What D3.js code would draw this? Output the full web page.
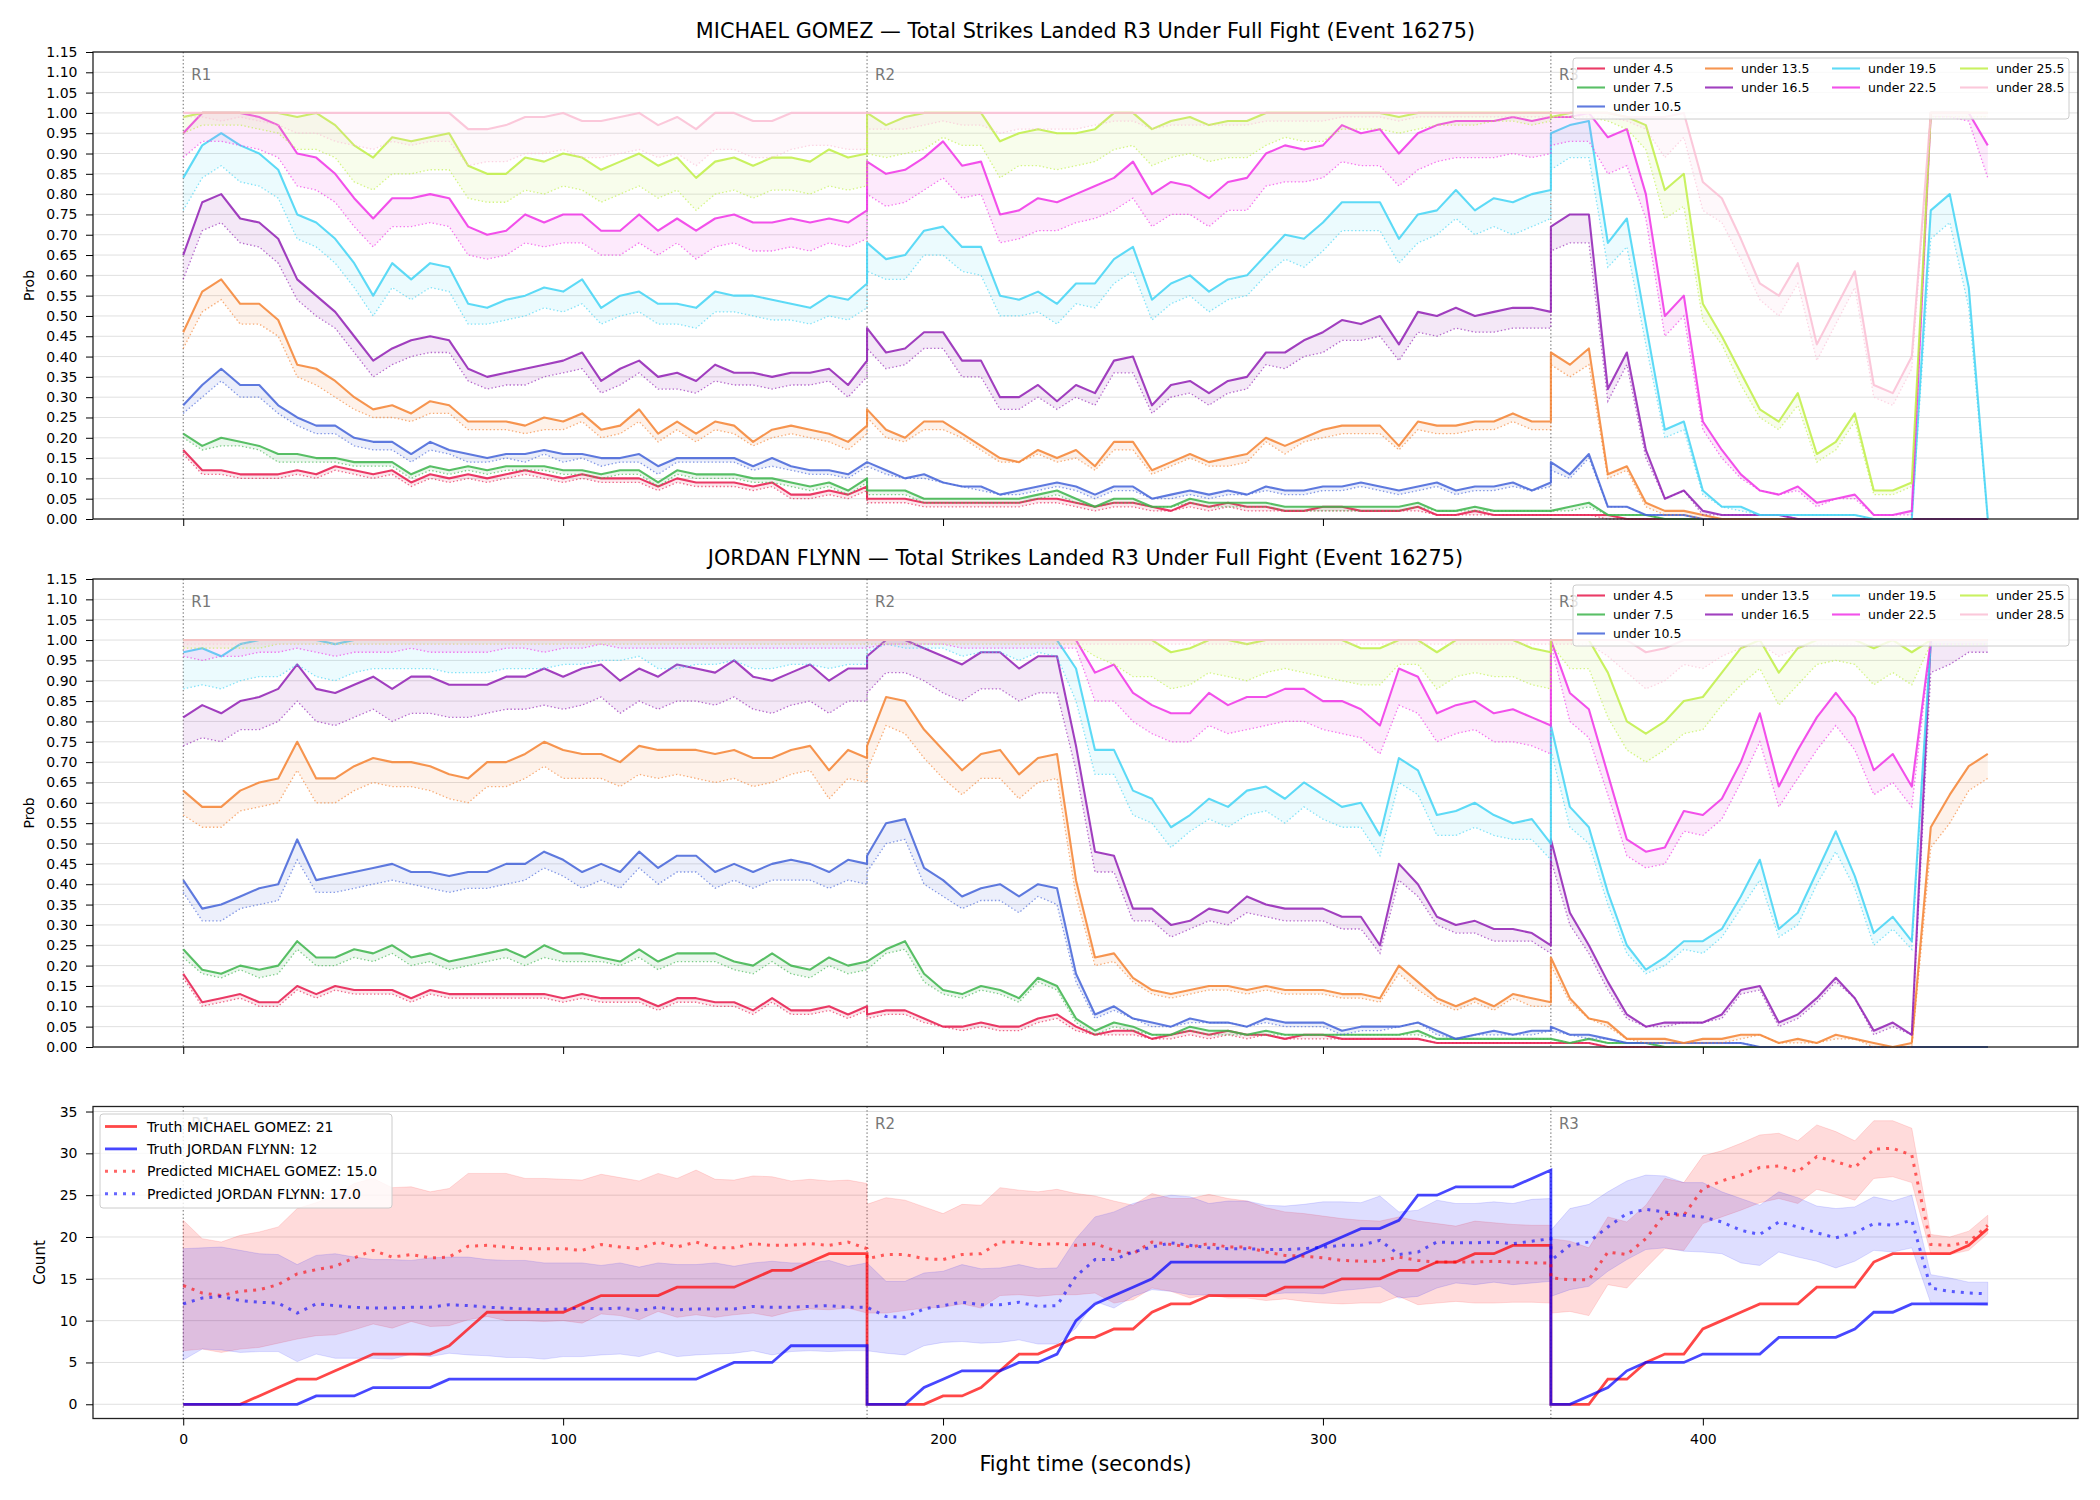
<!DOCTYPE html>
<html>
<head>
<meta charset="utf-8">
<script src="https://cdn.jsdelivr.net/npm/d3@7"></script>
<style>
  body { margin: 0; background: #fff; }
  text { font-family: "DejaVu Sans", sans-serif; }
</style>
</head>
<body>
<div id="chart"></div>
<script>
// --- sampling grid: every 5 s, each round sampled from its start to its end
const roundStarts = [0, 180, 360];
const roundEnds = [180, 360, 475];
const roundNames = ["R1", "R2", "R3"];
const step = 5;
const times = roundStarts.flatMap((s, i) => d3.range(s, roundEnds[i] + 1, step));

const thresholds = ["under 4.5", "under 7.5", "under 10.5", "under 13.5", "under 16.5",
  "under 19.5", "under 22.5", "under 25.5", "under 28.5"];
const colors = ["#e6194B", "#3cb44b", "#4363d8", "#f58231", "#911eb4",
  "#42d4f4", "#f032e6", "#bfef45", "#fabed4"];

// probabilities in %, one row per threshold, rounds R1 | R2 | R3
const gomezProb = [
  [17,12,12,11,11,11,12,11,13,12,11,12,9,11,10,11,10,11,12,11,10,11,10,10,10,8,10,9,9,9,8,9,6,6,7,6,8,
   5,5,5,4,4,4,4,4,4,5,5,4,3,4,4,3,2,4,3,4,3,3,2,2,3,3,2,2,2,3,1,1,2,1,1,1,1,
   1,1,1,1,0,0,0,0,0,0,0,0,0,0,0,0,0,0,0,0,0,0,0,0],
  [21,18,20,19,18,16,16,15,15,14,14,14,11,13,12,13,12,13,13,13,12,12,11,12,12,9,12,11,11,11,10,10,9,8,9,7,10,
   7,7,7,5,5,5,5,5,5,6,7,5,3,5,5,3,3,5,4,4,4,4,3,3,3,3,3,3,3,4,2,2,3,2,2,2,2,
   2,3,4,1,1,1,0,0,0,0,0,0,0,0,0,0,0,0,0,0,0,0,0,0],
  [28,33,37,33,33,28,25,23,23,20,19,19,16,19,17,16,15,16,16,17,16,16,15,15,16,13,15,15,15,15,13,15,13,12,12,11,14,
   14,12,10,11,9,8,8,6,7,8,9,8,6,8,8,5,6,7,6,7,6,8,7,7,8,8,9,8,7,8,9,7,8,8,9,7,9,
   14,11,16,3,3,1,1,1,0,0,0,0,0,0,0,0,0,0,0,0,0,0,0,0],
  [46,56,59,53,53,49,38,37,34,30,27,28,26,29,28,24,24,24,23,25,24,26,22,23,27,21,24,21,24,23,19,22,23,22,21,19,23,
   27,22,20,24,24,21,18,15,14,17,15,17,13,19,19,12,14,16,14,15,16,20,18,20,22,23,23,23,18,24,23,23,24,24,26,24,24,
   41,38,42,11,13,4,2,2,1,0,0,0,0,0,0,0,0,0,0,0,0,0,0,0],
  [65,78,80,74,73,69,59,55,51,45,39,42,44,45,44,37,35,36,37,38,39,41,34,37,39,35,36,34,38,36,36,35,36,36,37,33,39,
   47,41,42,46,46,39,39,30,30,33,29,33,31,39,40,28,33,34,31,34,35,41,41,44,46,49,48,50,43,51,50,52,50,51,52,52,51,
   72,75,75,32,41,17,5,7,2,1,1,1,1,0,0,0,0,0,0,0,0,0,0,0],
  [84,92,95,92,90,86,75,73,69,63,55,63,59,63,62,53,52,54,55,57,56,59,52,55,56,53,53,52,56,55,55,54,53,52,55,54,58,
   68,64,65,71,72,67,67,55,54,56,53,58,58,64,67,54,58,60,56,59,60,65,70,69,73,78,78,78,69,75,76,81,76,79,78,80,81,
   95,97,98,68,74,48,22,24,7,3,3,1,1,1,1,1,1,0,0,0,76,80,57,0],
  [95,100,100,100,99,97,90,89,85,79,74,79,79,80,79,72,70,71,75,73,75,75,71,71,75,71,74,71,74,75,73,73,74,73,74,73,76,
   88,85,86,89,93,87,88,75,76,79,78,80,82,84,88,80,83,82,79,83,84,90,92,91,92,97,95,96,90,95,97,98,98,98,99,98,99,
   99,99,100,94,96,80,50,55,24,17,11,7,6,8,4,5,6,1,1,2,100,100,100,92],
  [99,100,100,100,100,100,99,100,97,92,89,94,93,94,95,87,85,85,89,88,90,89,86,88,90,87,89,84,88,89,87,89,89,88,91,89,90,
   100,97,99,100,100,100,100,93,95,96,95,95,96,100,100,96,98,99,97,98,98,100,100,100,100,100,100,100,99,100,100,100,100,100,100,100,100,
   99,100,100,100,99,97,81,85,53,45,36,27,24,31,16,19,26,7,7,9,100,100,100,100],
  [100,100,100,100,100,100,100,100,100,100,100,100,100,100,100,96,96,97,99,99,100,98,98,99,100,97,99,96,100,100,98,98,100,100,100,100,100,
   100,100,100,100,100,100,100,100,100,100,100,100,100,100,100,100,100,100,100,100,100,100,100,100,100,100,100,100,100,100,100,100,100,100,100,100,100,
   100,100,100,100,99,99,99,100,83,79,69,58,55,63,43,52,61,33,31,40,100,100,100,100]
];

const gomezProbLow = [
  [16,11,11,10,10,10,11,10,12,11,10,11,8,10,9,10,9,10,11,10,9,10,9,9,9,7,9,8,8,8,7,8,5,5,6,5,7,
   4,4,4,3,3,3,3,3,3,4,4,3,2,3,3,2,2,3,2,3,2,2,2,2,2,2,2,2,2,2,1,1,1,1,1,1,1,
   1,1,1,0,0,0,0,0,0,0,0,0,0,0,0,0,0,0,0,0,0,0,0,0],
  [20,17,18,18,17,14,14,14,14,13,13,13,10,12,11,12,11,12,12,12,11,11,10,11,11,8,11,10,10,10,9,9,8,7,8,6,9,
   6,6,6,4,4,4,4,4,4,5,6,4,3,4,4,3,3,4,3,3,3,3,2,2,2,2,2,2,2,3,2,2,2,2,2,2,2,
   2,2,3,1,1,1,0,0,0,0,0,0,0,0,0,0,0,0,0,0,0,0,0,0],
  [26,30,34,30,30,26,23,21,21,18,17,17,14,17,16,14,14,15,14,16,14,15,13,14,14,11,14,14,14,14,12,13,12,11,11,10,13,
   13,11,10,10,9,8,7,6,6,7,8,7,5,7,7,5,5,6,5,6,6,7,6,6,7,7,8,7,6,7,8,6,7,7,8,7,8,
   12,10,15,3,3,1,1,1,0,0,0,0,0,0,0,0,0,0,0,0,0,0,0,0],
  [42,51,54,48,48,45,35,33,30,27,25,25,24,26,26,22,22,22,21,22,22,24,20,21,24,19,22,19,22,21,18,20,21,20,19,17,21,
   25,20,19,22,22,20,17,14,14,16,14,15,12,17,17,11,13,15,13,13,14,19,16,19,20,21,21,21,17,22,21,21,22,22,24,22,22,
   38,35,38,10,12,3,1,1,0,0,0,0,0,0,0,0,0,0,0,0,0,0,0,0],
  [59,71,73,68,67,63,54,50,47,41,35,38,40,41,41,34,32,33,33,35,36,37,31,33,36,32,32,31,34,33,33,32,33,33,34,30,35,
   42,37,38,42,42,35,35,27,27,30,27,30,28,36,36,26,30,31,28,31,32,38,37,40,41,44,44,45,39,46,45,47,46,46,47,47,47,
   66,68,68,29,38,15,5,7,1,1,1,1,1,0,0,0,0,0,0,0,0,0,0,0],
  [76,84,87,83,82,79,69,67,63,57,50,57,54,57,56,48,48,49,50,52,51,53,48,50,51,48,48,47,51,51,50,49,49,48,50,49,52,
   61,59,59,65,65,61,60,50,50,51,48,53,52,58,61,49,53,55,51,54,55,60,64,62,66,71,71,71,63,68,70,74,70,72,70,72,74,
   86,89,89,62,67,43,20,22,6,3,2,1,1,1,1,1,1,0,0,0,69,73,52,0],
  [89,93,93,92,91,89,82,81,78,72,67,72,72,73,72,65,64,65,68,67,68,68,65,65,68,65,68,64,67,68,66,66,67,66,68,67,69,
   80,77,78,81,84,79,80,68,69,71,71,73,74,76,79,72,75,75,72,76,76,82,83,83,84,88,87,87,82,86,88,89,89,89,90,89,90,
   92,93,93,85,87,74,45,50,22,15,10,7,6,7,3,5,5,1,1,1,99,99,98,84],
  [95,97,97,97,96,95,91,91,89,83,81,85,85,86,86,79,78,78,81,80,82,81,78,80,82,79,81,76,80,81,79,81,81,80,82,81,82,
   90,89,90,91,94,92,92,84,87,87,86,87,88,91,92,87,89,90,88,89,89,92,94,93,93,96,96,96,95,96,97,97,97,98,98,97,98,
   99,99,99,98,96,91,74,77,49,43,33,25,22,28,14,17,24,6,6,8,99,99,99,99],
  [99,99,98,99,98,97,95,95,93,92,91,93,92,93,93,87,88,88,90,90,91,89,89,90,91,89,90,87,91,91,89,89,91,92,92,91,91,
   96,96,96,97,98,97,97,95,96,96,96,96,97,98,98,96,97,97,97,97,97,98,98,98,98,99,99,99,98,99,99,99,99,99,99,99,99,
   99,99,99,99,98,96,89,94,76,73,64,54,50,58,39,48,57,30,28,37,99,99,99,99]
];

const flynnProb = [
  [18,11,12,13,11,11,15,13,15,14,14,14,12,14,13,13,13,13,13,13,12,13,12,12,12,10,12,12,11,11,9,12,9,9,10,8,10,
   8,9,9,7,5,5,6,5,5,7,8,5,3,4,4,2,3,4,3,4,3,3,2,3,3,2,2,2,2,2,1,1,1,1,1,1,1,
   1,1,1,0,0,0,0,0,0,0,0,0,0,0,0,0,0,0,0,0,0,0,0,0],
  [24,19,18,20,19,20,26,22,22,24,23,25,22,23,21,22,23,24,22,25,23,23,22,21,24,21,23,23,23,21,20,23,20,19,22,20,21,
   21,24,26,18,14,13,15,14,12,17,15,7,4,6,5,3,3,5,4,4,3,4,3,3,3,3,3,3,3,4,2,2,2,2,2,2,2,
   2,1,2,1,1,1,0,0,0,0,0,0,0,0,0,0,0,0,0,0,0,0,0,0],
  [41,34,35,37,39,40,51,41,42,43,44,45,43,43,42,43,43,45,45,48,46,43,45,43,48,44,47,47,43,45,43,45,46,45,43,46,45,
   47,55,56,44,41,37,39,40,37,40,39,18,8,10,7,6,5,7,6,6,5,7,6,6,6,4,5,5,5,6,4,2,3,4,3,4,4,
   5,3,3,2,1,1,1,1,1,1,1,0,0,0,0,0,0,0,0,0,0,0,0,0],
  [63,59,59,63,65,66,75,66,66,69,71,70,70,69,67,66,70,70,72,75,73,72,72,70,74,73,73,73,72,73,71,71,73,74,68,73,71,
   74,86,85,78,73,68,72,73,67,71,72,41,22,23,17,14,13,14,15,15,14,15,14,14,14,13,13,12,20,16,12,10,12,10,13,12,11,
   22,12,7,6,2,2,2,1,2,2,3,3,1,2,1,3,2,1,0,1,54,62,69,72],
  [81,84,82,85,86,88,94,88,87,89,91,88,91,91,89,89,89,91,91,93,91,93,94,90,93,91,94,93,92,95,91,90,92,94,90,93,93,
   96,100,100,98,96,94,97,97,93,96,96,74,48,47,34,34,30,31,34,33,37,35,34,34,34,32,32,25,45,40,32,30,31,29,29,28,25,
   51,33,25,16,8,5,6,6,6,8,14,15,6,8,12,17,12,4,6,3,100,100,100,100],
  [97,98,96,99,100,100,100,100,99,100,100,100,100,100,100,100,100,100,100,100,100,100,100,100,100,100,100,100,100,100,100,100,100,100,100,100,100,
   100,100,100,100,100,100,100,100,100,100,100,93,73,73,63,61,54,57,61,59,63,64,61,65,62,59,60,52,71,68,57,58,60,57,55,56,50,
   79,59,54,38,25,19,22,26,26,29,37,46,29,33,43,53,42,28,32,26,100,100,100,100],
  [100,100,100,100,100,100,100,100,100,100,100,100,100,100,100,100,100,100,100,100,100,100,100,100,100,100,100,100,100,100,100,100,100,100,100,100,100,
   100,100,100,100,100,100,100,100,100,100,100,100,92,94,87,84,82,82,87,84,86,86,88,88,85,85,83,79,93,91,82,84,85,82,83,81,79,
   100,87,83,67,51,48,49,58,57,61,70,82,64,73,81,87,81,68,72,64,100,100,100,100],
  [100,100,100,100,100,100,100,100,100,100,100,100,100,100,100,100,100,100,100,100,100,100,100,100,100,100,100,100,100,100,100,100,100,100,100,100,100,
   100,100,100,100,100,100,100,100,100,100,100,100,100,100,100,100,97,98,100,100,99,100,100,100,100,100,98,98,100,100,97,100,100,100,100,98,97,
   100,100,100,92,80,77,80,85,86,92,98,100,92,98,100,100,100,98,100,97,100,100,100,100],
  [100,100,100,100,100,100,100,100,100,100,100,100,100,100,100,100,100,100,100,100,100,100,100,100,100,100,100,100,100,100,100,100,100,100,100,100,100,
   100,100,100,100,100,100,100,100,100,100,100,100,100,100,100,100,100,100,100,100,100,100,100,100,100,100,100,100,100,100,100,100,100,100,100,100,100,
   100,100,100,100,100,97,98,100,100,100,100,100,100,100,100,100,100,100,100,100,100,100,100,100]
];

const flynnProbLow = [
  [17,10,11,12,10,10,14,12,14,13,13,13,11,13,12,12,12,12,12,12,11,12,11,11,11,9,11,11,10,10,8,11,8,8,9,7,9,
   7,8,8,6,5,4,5,4,4,6,7,4,3,3,3,2,2,3,2,3,2,3,2,2,2,2,2,2,2,2,1,1,1,1,1,1,1,
   1,1,1,0,0,0,0,0,0,0,0,0,0,0,0,0,0,0,0,0,0,0,0,0],
  [22,18,17,19,17,18,24,20,20,22,21,23,20,21,19,20,21,22,20,22,21,21,21,20,22,19,21,21,21,19,18,21,18,17,20,18,19,
   19,23,24,16,13,12,14,13,11,16,14,6,3,5,4,3,3,4,3,3,3,3,3,3,3,3,3,3,3,3,2,2,2,2,2,2,2,
   2,1,2,1,1,1,0,0,0,0,0,0,0,0,0,0,0,0,0,0,0,0,0,0],
  [38,31,31,34,35,36,46,38,38,39,40,41,40,39,38,39,39,40,41,44,42,39,41,39,44,40,43,43,39,41,39,41,41,41,39,41,40,
   43,50,51,40,37,34,36,36,33,37,35,16,7,9,7,5,5,6,6,6,5,6,5,5,5,3,4,4,5,6,3,2,3,3,3,3,4,
   4,3,2,2,1,1,1,1,1,1,1,0,0,0,0,0,0,0,0,0,0,0,0,0],
  [57,54,54,58,59,60,68,60,60,63,65,64,64,63,61,60,64,64,66,69,66,66,66,64,67,66,67,66,65,66,64,65,67,68,61,66,65,
   68,79,77,71,66,62,66,66,61,65,66,37,20,21,16,13,12,13,14,14,13,14,13,13,13,12,12,11,18,14,11,9,11,9,12,10,10,
   20,11,7,5,2,1,1,1,1,1,2,3,1,1,1,2,2,0,0,0,49,55,63,66],
  [74,76,75,78,78,80,85,80,79,81,83,80,82,82,81,81,82,83,83,84,83,84,86,82,85,83,85,85,84,86,83,82,84,85,82,85,85,
   87,92,92,90,87,85,88,88,85,87,87,68,43,43,31,31,27,29,31,30,33,32,31,31,31,29,29,23,41,37,30,28,28,26,26,26,23,
   46,30,23,14,7,5,5,6,6,7,13,14,5,7,11,16,12,3,5,3,92,94,97,97],
  [88,89,88,90,91,91,94,91,90,92,93,93,93,93,92,92,92,93,93,93,94,94,95,95,96,93,93,94,94,95,93,93,94,94,93,94,94,
   97,99,98,98,98,96,97,97,95,97,96,85,67,67,57,55,49,53,56,54,57,58,55,59,56,54,54,47,65,62,52,52,54,52,51,51,46,
   73,54,50,35,23,18,20,24,23,27,34,41,27,30,40,48,39,25,29,24,99,99,99,99],
  [96,95,96,96,97,97,98,97,96,97,97,97,98,97,97,97,97,98,98,97,98,98,99,98,98,98,98,98,98,98,98,98,98,98,98,98,98,
   98,99,99,99,99,98,98,98,98,98,98,98,85,85,80,77,75,75,79,77,78,79,80,80,78,77,76,72,84,82,75,77,78,75,75,74,72,
   99,80,76,62,47,44,45,53,52,56,65,75,59,66,73,79,73,62,65,59,99,99,99,99],
  [98,98,98,98,98,99,99,99,99,99,99,99,99,99,99,99,99,99,99,99,99,99,99,99,99,99,99,99,99,99,99,99,99,99,99,99,99,
   99,99,99,99,99,99,99,99,99,99,99,99,96,94,91,91,88,89,92,91,90,92,93,92,91,90,89,89,94,94,88,91,92,91,91,89,88,
   99,93,93,81,73,70,73,77,78,84,89,93,84,89,94,95,94,89,92,89,99,99,99,99],
  [99,99,99,99,99,99,99,99,99,99,99,99,99,99,99,99,99,99,99,99,99,99,99,99,99,99,99,99,99,99,99,99,99,99,99,99,99,
   99,99,99,99,99,99,99,99,99,99,99,99,99,99,99,99,99,99,99,99,99,99,99,99,99,99,99,99,99,99,99,99,99,99,99,99,99,
   99,99,99,96,92,88,90,94,93,96,98,99,96,98,99,99,99,99,99,99,99,99,99,99]
];

// cumulative counts (bottom panel)
const truthGomez = [0,0,0,0,1,2,3,3,4,5,6,6,6,6,7,9,11,11,11,11,11,12,13,13,13,13,14,14,14,14,15,16,16,17,18,18,18,
  0,0,0,0,1,1,2,4,6,6,7,8,8,9,9,11,12,12,13,13,13,13,14,14,14,15,15,15,16,16,17,17,18,18,19,19,19,
  0,0,0,3,3,5,6,6,9,10,11,12,12,12,14,14,14,17,18,18,18,18,19,21];
const truthFlynn = [0,0,0,0,0,0,0,1,1,1,2,2,2,2,3,3,3,3,3,3,3,3,3,3,3,3,3,3,4,5,5,5,7,7,7,7,7,
  0,0,0,2,3,4,4,4,5,5,6,10,12,13,14,15,17,17,17,17,17,17,17,18,19,20,21,21,22,25,25,26,26,26,26,27,28,
  0,0,1,2,4,5,5,5,6,6,6,6,8,8,8,8,9,11,11,12,12,12,12,12];
const predGomez = [14.2,13.3,13.0,13.5,13.7,14.3,15.6,16.1,16.5,17.5,18.4,17.6,17.9,17.5,17.6,18.9,19.0,18.8,18.6,18.6,18.6,18.4,19.1,18.8,18.6,19.4,18.8,19.4,18.7,18.7,19.2,19.0,19.0,19.2,19.0,19.4,18.6,
  17.4,17.9,17.9,17.4,17.3,17.9,18.0,19.4,19.4,19.1,19.2,19.0,19.2,18.4,18.0,19.4,19.1,18.8,19.2,18.8,18.8,18.2,17.8,17.7,17.5,17.2,17.1,17.1,17.6,17.2,17.0,17.0,17.0,17.1,17.0,16.9,16.9,
  15.1,14.9,14.9,18.2,17.9,19.8,22.7,22.6,25.8,26.7,27.4,28.3,28.5,27.8,29.6,29.0,28.3,30.5,30.6,29.8,19.1,19.0,19.4,21.4];
const predFlynn = [12.0,12.7,12.9,12.4,12.2,12.1,10.9,12.0,11.8,11.6,11.5,11.5,11.6,11.6,11.9,11.8,11.6,11.5,11.4,11.3,11.4,11.5,11.4,11.5,11.2,11.6,11.3,11.4,11.4,11.4,11.7,11.6,11.6,11.7,11.8,11.6,11.6,
  11.6,10.5,10.4,11.4,11.8,12.2,11.9,11.9,12.2,11.7,11.8,15.3,17.3,17.3,18.2,18.8,19.3,19.0,18.7,18.6,18.6,18.5,18.5,18.6,18.8,19.0,19.0,19.6,17.9,18.2,19.4,19.3,19.3,19.4,19.2,19.5,19.8,
  17.2,19.0,19.4,21.2,22.8,23.3,23.0,22.6,22.4,21.8,20.8,20.3,21.8,21.2,20.5,19.9,20.5,21.6,21.4,22.0,13.9,13.5,13.3,13.2];
const gomezHigh = [22.0,19.8,19.4,20.2,20.6,21.2,23.4,24.1,25.0,26.4,27.0,25.9,26.0,25.4,25.8,27.6,27.6,27.6,27.0,27.0,26.9,26.8,27.5,27.1,26.7,27.6,27.0,28.0,26.9,26.8,27.3,27.2,26.7,26.9,26.7,26.8,26.4,
  23.9,24.7,24.4,23.6,22.8,23.9,23.8,25.9,25.6,25.4,25.7,25.2,24.9,24.3,23.8,25.2,24.6,24.6,25.1,24.6,24.3,23.5,23.0,22.8,22.5,22.2,22.0,21.9,22.4,21.9,21.6,21.3,21.9,21.7,21.5,21.4,21.4,
  19.8,19.5,18.7,22.4,21.8,23.8,27.0,26.5,29.7,30.3,31.2,32.2,32.4,31.5,33.4,32.6,31.5,33.9,33.9,33.0,20.3,20.0,20.7,22.6];
const gomezLow = [6.4,6.6,6.2,6.6,6.8,7.3,7.8,8.2,8.3,8.9,9.6,9.1,9.9,9.3,9.4,10.1,10.5,10.0,10.0,9.9,10.0,9.7,10.8,10.6,10.1,11.1,10.4,10.7,10.4,10.7,10.9,10.5,11.1,11.4,11.3,11.5,10.9,
  10.9,10.9,11.2,11.5,11.6,12.0,11.5,13.0,13.1,12.9,13.1,13.1,13.3,12.1,12.5,13.9,13.5,12.7,13.1,12.7,12.7,12.4,12.6,12.3,12.1,12.0,12.1,12.1,12.9,11.9,12.1,12.3,12.1,12.1,12.2,12.2,12.1,
  10.9,11.1,10.6,14.3,13.9,16.3,18.6,18.4,21.6,22.4,23.2,24.1,24.6,24.0,25.7,25.1,24.4,27.0,27.2,26.5,18.0,17.9,18.4,20.4];
const flynnHigh = [18.6,18.7,18.8,18.4,18.0,17.9,16.7,17.8,18.0,17.6,17.3,17.3,17.2,17.5,17.6,17.6,17.3,17.2,17.2,16.9,16.9,16.9,16.6,16.9,16.4,16.9,16.7,16.7,16.9,16.5,16.9,17.1,16.9,16.9,17.2,16.5,16.9,
  16.9,14.7,14.7,15.7,15.9,16.7,16.2,16.3,16.7,16.2,16.3,19.8,22.4,23.0,24.0,24.6,25.0,24.8,24.0,24.3,24.3,23.8,23.7,23.9,24.2,24.2,24.1,24.9,23.0,23.2,24.4,24.0,24.0,24.2,24.0,24.5,24.6,
  20.8,23.4,23.9,25.4,26.7,27.4,27.3,26.5,26.5,25.4,24.6,23.8,25.4,24.7,23.7,23.4,23.6,24.8,24.3,25.0,15.5,15.1,14.6,14.6];
const flynnLow = [5.3,6.6,6.5,6.2,6.3,6.3,5.1,6.0,5.5,5.5,5.5,5.4,6.0,5.7,6.1,5.9,5.8,5.6,5.6,5.4,5.7,5.7,5.9,6.0,5.7,6.3,5.7,5.9,6.0,6.1,6.4,5.9,6.3,6.4,6.3,6.4,6.4,
  6.4,6.1,5.9,7.0,7.4,7.5,7.3,7.4,7.7,7.2,7.2,9.1,12.3,11.5,12.9,13.7,13.5,13.1,13.1,13.1,13.1,13.1,13.3,13.3,13.2,13.6,13.8,14.1,12.7,12.9,13.9,14.5,14.3,14.6,14.3,14.5,14.7,
  12.9,13.7,14.1,15.9,17.3,18.5,18.7,18.3,18.2,18.0,16.9,16.6,18.2,17.6,17.1,16.3,17.1,18.4,18.2,18.7,12.1,12.0,11.9,11.8];

// --- layout
const X0 = 93, X1 = 2078;
const panels = [
  { top: 52, bottom: 519 },
  { top: 579, bottom: 1047 },
  { top: 1106.5, bottom: 1418.5 }
];
const x = d3.scaleLinear().domain([-23.75, 498.75]).range([X0, X1]);

const svg = d3.select("#chart").append("svg")
  .attr("width", 2100).attr("height", 1500);
svg.append("rect").attr("width", 2100).attr("height", 1500).attr("fill", "#fff");

function gridAndRounds(g, p, y, ticks) {
  g.append("g").selectAll("line").data(ticks).join("line")
    .attr("x1", X0).attr("x2", X1)
    .attr("y1", d => y(d)).attr("y2", d => y(d))
    .attr("stroke", "#e0e0e0").attr("stroke-width", 1);
  roundStarts.forEach((t, i) => {
    g.append("line")
      .attr("x1", x(t)).attr("x2", x(t)).attr("y1", p.top).attr("y2", p.bottom)
      .attr("stroke", "#666").attr("stroke-width", 1).attr("stroke-dasharray", "1.4,2.3");
    g.append("text")
      .attr("x", x(t) + 8).attr("y", p.top + 0.035 * (p.bottom - p.top))
      .attr("dominant-baseline", "hanging")
      .attr("font-size", 15).attr("fill", "#777")
      .text(roundNames[i]);
  });
}

function axesFrame(g, p, y, yTicks, yFormat, showX) {
  g.append("rect")
    .attr("x", X0).attr("y", p.top).attr("width", X1 - X0).attr("height", p.bottom - p.top)
    .attr("fill", "none").attr("stroke", "#222").attr("stroke-width", 1.3);
  const ya = g.append("g").attr("transform", `translate(${X0},0)`)
    .call(d3.axisLeft(y).tickValues(yTicks).tickFormat(yFormat).tickSize(7).tickPadding(8.5));
  ya.select(".domain").remove();
  ya.selectAll("text").attr("font-size", 14).attr("fill", "#000")
    .attr("font-family", "'DejaVu Sans', sans-serif");
  const xa = g.append("g").attr("transform", `translate(0,${p.bottom})`)
    .call(d3.axisBottom(x).tickValues([0, 100, 200, 300, 400])
      .tickFormat(showX ? d3.format("d") : () => "").tickSize(7).tickPadding(9));
  xa.select(".domain").remove();
  xa.selectAll("text").attr("font-size", 14).attr("fill", "#000")
    .attr("font-family", "'DejaVu Sans', sans-serif");
}

function probPanel(p, solid, low, title) {
  const y = d3.scaleLinear().domain([0, 1.15]).range([p.bottom, p.top]);
  const g = svg.append("g");
  const yTicks = d3.range(24).map(i => i * 0.05);
  gridAndRounds(g, p, y, yTicks);

  thresholds.forEach((name, k) => {
    const pts = times.map((t, i) => ({ t, hi: solid[k][i] / 100, lo: low[k][i] / 100 }));
    g.append("path").datum(pts)
      .attr("fill", colors[k]).attr("fill-opacity", 0.1)
      .attr("d", d3.area().x(d => x(d.t)).y0(d => y(d.lo)).y1(d => y(d.hi)));
    g.append("path").datum(pts)
      .attr("fill", "none").attr("stroke", colors[k]).attr("stroke-opacity", 0.65)
      .attr("stroke-width", 1.3).attr("stroke-dasharray", "1.4,2.3")
      .attr("d", d3.line().x(d => x(d.t)).y(d => y(d.lo)));
    g.append("path").datum(pts)
      .attr("fill", "none").attr("stroke", colors[k]).attr("stroke-opacity", 0.85)
      .attr("stroke-width", 2.1).attr("stroke-linejoin", "round")
      .attr("d", d3.line().x(d => x(d.t)).y(d => y(d.hi)));
  });

  axesFrame(g, p, y, yTicks, d3.format(".2f"), false);

  g.append("text")
    .attr("x", 29).attr("y", (p.top + p.bottom) / 2)
    .attr("transform", `rotate(-90,29,${(p.top + p.bottom) / 2})`)
    .attr("text-anchor", "middle").attr("dominant-baseline", "central")
    .attr("font-size", 14).text("Prob");

  g.append("text")
    .attr("x", (X0 + X1) / 2).attr("y", p.top - 14.5)
    .attr("text-anchor", "middle").attr("font-size", 20.8).text(title);

  // legend, 4 columns filled column-wise
  const lg = g.append("g");
  const boxTop = p.top + 6;
  lg.append("rect")
    .attr("x", 1573).attr("y", boxTop).attr("width", 496).attr("height", 61)
    .attr("rx", 3).attr("fill", "#fff").attr("fill-opacity", 0.8)
    .attr("stroke", "#cccccc").attr("stroke-width", 1);
  const cols = [[0, 1, 2], [3, 4], [5, 6], [7, 8]];
  const colX = [1577, 1705, 1832, 1960];
  cols.forEach((items, c) => items.forEach((k, r) => {
    const yy = boxTop + 10.5 + r * 19;
    lg.append("line")
      .attr("x1", colX[c]).attr("x2", colX[c] + 28).attr("y1", yy).attr("y2", yy)
      .attr("stroke", colors[k]).attr("stroke-opacity", 0.85).attr("stroke-width", 2.1);
    lg.append("text")
      .attr("x", colX[c] + 36).attr("y", yy)
      .attr("dominant-baseline", "central").attr("font-size", 12.5)
      .text(thresholds[k]);
  }));
}

probPanel(panels[0], gomezProb, gomezProbLow,
  "MICHAEL GOMEZ \u2014 Total Strikes Landed R3 Under Full Fight (Event 16275)");
probPanel(panels[1], flynnProb, flynnProbLow,
  "JORDAN FLYNN \u2014 Total Strikes Landed R3 Under Full Fight (Event 16275)");

// --- bottom panel: counts
(function () {
  const p = panels[2];
  const y = d3.scaleLinear().domain([-1.7, 35.6]).range([p.bottom, p.top]);
  const g = svg.append("g");
  const yTicks = d3.range(0, 36, 5);
  gridAndRounds(g, p, y, yTicks);

  const pts = times.map((t, i) => ({
    t, tg: truthGomez[i], tf: truthFlynn[i], pg: predGomez[i], pf: predFlynn[i],
    gh: gomezHigh[i], gl: gomezLow[i], fh: flynnHigh[i], fl: flynnLow[i]
  }));
  const band = (lo, hi) => d3.area().x(d => x(d.t)).y0(d => y(d[lo])).y1(d => y(d[hi]));
  const line = key => d3.line().x(d => x(d.t)).y(d => y(d[key]));

  g.append("path").datum(pts).attr("d", band("gl", "gh"))
    .attr("fill", "#ff0000").attr("fill-opacity", 0.14)
    .attr("stroke", "#ff0000").attr("stroke-opacity", 0.12).attr("stroke-width", 1);
  g.append("path").datum(pts).attr("d", band("fl", "fh"))
    .attr("fill", "#0000ff").attr("fill-opacity", 0.13)
    .attr("stroke", "#0000ff").attr("stroke-opacity", 0.12).attr("stroke-width", 1);

  const series = [
    { key: "tg", color: "#ff0000", dash: null, label: "Truth MICHAEL GOMEZ: 21" },
    { key: "tf", color: "#0000ff", dash: null, label: "Truth JORDAN FLYNN: 12" },
    { key: "pg", color: "#ff0000", dash: "3,6", label: "Predicted MICHAEL GOMEZ: 15.0" },
    { key: "pf", color: "#0000ff", dash: "3,6", label: "Predicted JORDAN FLYNN: 17.0" }
  ];
  series.forEach(s => {
    g.append("path").datum(pts).attr("d", line(s.key))
      .attr("fill", "none").attr("stroke", s.color)
      .attr("stroke-opacity", s.dash ? 0.6 : 0.72)
      .attr("stroke-width", s.dash ? 3 : 2.8)
      .attr("stroke-dasharray", s.dash);
  });

  axesFrame(g, p, y, yTicks, d3.format("d"), true);

  g.append("text")
    .attr("x", 40).attr("y", (p.top + p.bottom) / 2)
    .attr("transform", `rotate(-90,40,${(p.top + p.bottom) / 2})`)
    .attr("text-anchor", "middle").attr("dominant-baseline", "central")
    .attr("font-size", 15).text("Count");

  g.append("text")
    .attr("x", (X0 + X1) / 2).attr("y", 1471)
    .attr("text-anchor", "middle").attr("font-size", 20.8).text("Fight time (seconds)");

  const lg = g.append("g");
  lg.append("rect")
    .attr("x", 100).attr("y", 1114).attr("width", 292).attr("height", 94)
    .attr("rx", 3).attr("fill", "#fff").attr("fill-opacity", 0.8)
    .attr("stroke", "#cccccc").attr("stroke-width", 1);
  series.forEach((s, i) => {
    const yy = 1126.5 + i * 22.4;
    lg.append("line")
      .attr("x1", 105).attr("x2", 137).attr("y1", yy).attr("y2", yy)
      .attr("stroke", s.color).attr("stroke-opacity", s.dash ? 0.6 : 0.72)
      .attr("stroke-width", s.dash ? 3 : 2.8).attr("stroke-dasharray", s.dash);
    lg.append("text")
      .attr("x", 147).attr("y", yy)
      .attr("dominant-baseline", "central").attr("font-size", 14)
      .text(s.label);
  });
})();
</script>
</body>
</html>
